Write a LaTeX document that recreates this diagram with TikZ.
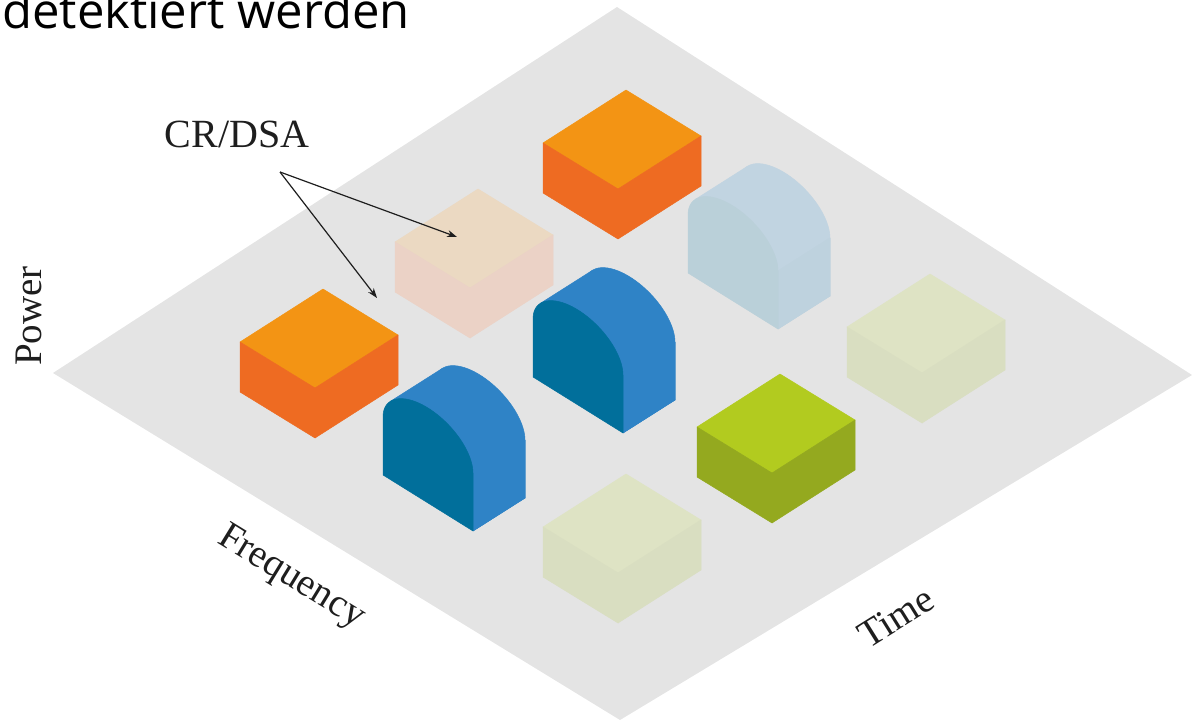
\documentclass[tikz,border=0pt]{standalone}
\usepackage{fontspec}
\setmainfont{Liberation Serif}
\newfontfamily\headfont{Open Sans}
\usetikzlibrary{arrows.meta}
\definecolor{planegray}{RGB}{228,228,228}
\definecolor{orTop}{RGB}{243,148,20}
\definecolor{orSide}{RGB}{238,107,34}
\definecolor{peTop}{RGB}{235,217,194}
\definecolor{peSide}{RGB}{235,210,198}
\definecolor{pgTop}{RGB}{222,227,196}
\definecolor{pgSide}{RGB}{217,222,193}
\definecolor{grTop}{RGB}{178,203,31}
\definecolor{grSide}{RGB}{148,169,31}
\definecolor{blDark}{RGB}{1,111,155}
\definecolor{blLight}{RGB}{47,131,198}
\definecolor{pbDark}{RGB}{186,208,217}
\definecolor{pbLight}{RGB}{193,212,225}
\definecolor{pbRight}{RGB}{190,210,222}
\definecolor{ink}{RGB}{30,30,30}
\def\archpath{(0,0) -- (0,-58) -- plot[domain=0:180,samples=40] ({45-45*cos(\x)},{-30-28*cos(\x)-37*sin(\x)}) -- (90,56) -- cycle}
\newcommand\isocube[5]{%
  \begin{scope}[shift={(#1,#2)}]
    \filldraw[draw=#3,fill=#3,face] (0,0) -- (75,46) -- (158,-7) -- (83,-53) -- cycle;
    \filldraw[draw=#4,fill=#4,face] (0,0) -- (75,46) -- (75,96) -- (0,50) -- cycle;
    \filldraw[draw=#5,fill=#5,face] (75,46) -- (158,-7) -- (158,43) -- (75,96) -- cycle;
  \end{scope}}
\newcommand\isoarch[5]{%
  \begin{scope}[shift={(#1,#2)}]
    \filldraw[draw=#4,fill=#4,face] (7.3,-73.6) -- (59.3,-106.6) -- (142,23) -- (90,56) -- cycle;
    \filldraw[draw=#4,fill=#4,face,shift={(52,-33)}] \archpath;
    \filldraw[draw=#5,fill=#5,face] (90,56) -- (90,-2) -- (142,-35) -- (142,23) -- cycle;
    \filldraw[draw=#3,fill=#3,face] \archpath;
  \end{scope}}
\begin{document}
\begin{tikzpicture}[x=1pt,y=-1pt,
  face/.style={line width=0.5pt,line join=round},
  lbl/.style={font=\fontsize{39}{45}\selectfont,text=ink,inner sep=0pt},
  ptr/.style={-{Stealth[length=10pt,width=7pt]},line width=1.2pt,draw=ink}]
\useasboundingbox (0,0) rectangle (1194,722);
\clip (0,0) rectangle (1194,722);
% plane
\coordinate (pT) at (617,7);
\coordinate (pL) at (53,373);
\coordinate (pB) at (620,720);
\coordinate (pR) at (1192,375);
\fill[planegray] (pT) -- (pL) -- (pB) -- (pR) -- cycle;
% blocks, back to front
\isocube{543}{143}{orTop}{orSide}{orSide}
\isocube{395}{242}{peTop}{peSide}{peSide}
\isoarch{688}{273}{pbDark}{pbLight}{pbRight}
\isocube{847}{327}{pgTop}{pgSide}{pgSide}
\isoarch{533}{377}{blDark}{blLight}{blLight}
\isocube{240}{342}{orTop}{orSide}{orSide}
\isocube{697}{427}{grTop}{grSide}{grSide}
\isoarch{383}{475}{blDark}{blLight}{blLight}
\isocube{543}{527}{pgTop}{pgSide}{pgSide}
% labels
\node[lbl,font=\fontsize{40}{46}\selectfont] (crdsa) at (237,134) {CR/DSA};
\node[lbl,rotate=90] (power) at (29,316) {Power};
\node[lbl,rotate=-31.5] (freq) at (291,578) {Frequency};
\node[lbl,rotate=32] (time) at (896,617) {Time};
\node[font=\headfont\fontsize{49}{54}\selectfont,anchor=base west,inner sep=0pt] (head) at (2,29) {detektiert werden};
% pointers
\coordinate (src) at (280,172);
\coordinate (tipA) at (457,237);
\coordinate (tipB) at (377,298);
\draw[ptr] (src) -- (tipA);
\draw[ptr] (src) -- (tipB);
\end{tikzpicture}
\end{document}
